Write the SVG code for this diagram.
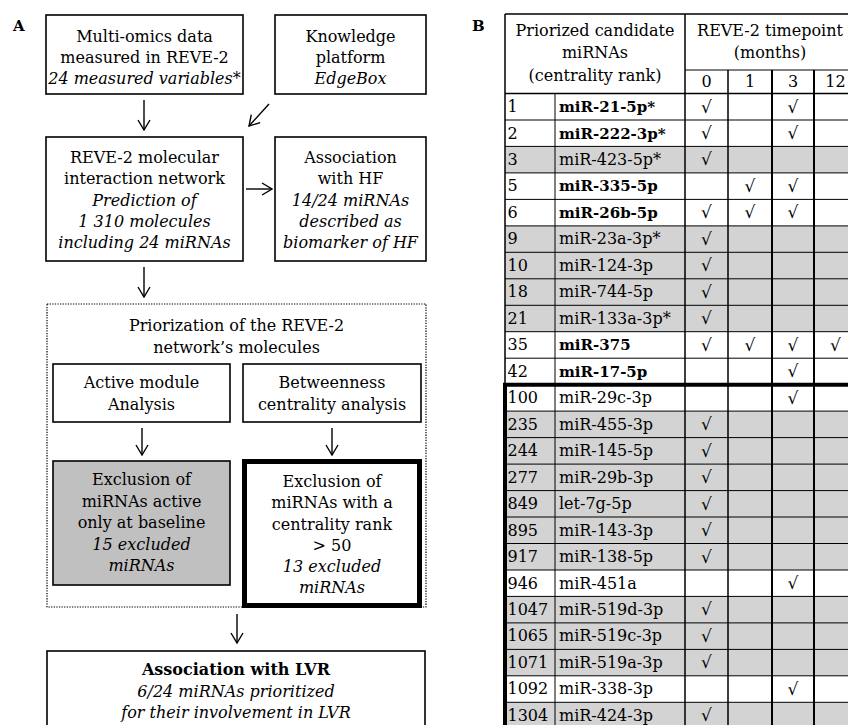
<svg xmlns="http://www.w3.org/2000/svg" width="848" height="725" viewBox="0 0 848 725">
<style>
.t{font-family:"DejaVu Serif","Liberation Serif",serif;font-size:16px;fill:#000}
.c{text-anchor:middle}
.i{font-style:italic}
.b{font-weight:bold}
.tb{font-weight:bold;font-size:15px}
.lbl{font-family:"DejaVu Serif","Liberation Serif",serif;font-size:15px;font-weight:bold}
.box{fill:#fff;stroke:#000;stroke-width:1.6}
.conn{fill:none;stroke:#000;stroke-width:1.4;marker-end:url(#ah)}
.ck{font-family:"DejaVu Serif","Liberation Serif",serif;font-size:17px;text-anchor:middle}
.gr{fill:#d3d3d3}
.hl{stroke:#000;stroke-width:1}
</style>
<defs>
<marker id="ah" markerUnits="userSpaceOnUse" markerWidth="14" markerHeight="14" viewBox="0 0 14 14" refX="13" refY="7" orient="auto">
<path d="M3,1 L13,7 L3,13" fill="none" stroke="#000" stroke-width="1.4"/>
</marker>
</defs>
<rect width="848" height="725" fill="#fff"/>
<text class="lbl" x="13" y="31">A</text>
<text class="lbl" x="472" y="31">B</text>

<g id="node-multiomics">
<rect class="box" x="46" y="15" width="197" height="79"/>
<text class="t c" x="144.5" y="42">Multi-omics data</text>
<text class="t c" x="144.5" y="63">measured in REVE-2</text>
<text class="t c i" x="144.5" y="84">24 measured variables*</text>
</g>
<g id="node-knowledge">
<rect class="box" x="275" y="15" width="151" height="79"/>
<text class="t c" x="350.5" y="42">Knowledge</text>
<text class="t c" x="350.5" y="63">platform</text>
<text class="t c i" x="350.5" y="84">EdgeBox</text>
</g>
<g id="node-network">
<rect class="box" x="46" y="137" width="197" height="124"/>
<text class="t c" x="144.5" y="163">REVE-2 molecular</text>
<text class="t c" x="144.5" y="184">interaction network</text>
<text class="t c i" x="144.5" y="206">Prediction of</text>
<text class="t c i" x="144.5" y="227">1 310 molecules</text>
<text class="t c i" x="144.5" y="248">including 24 miRNAs</text>
</g>
<g id="node-hf">
<rect class="box" x="275" y="137" width="151" height="124"/>
<text class="t c" x="350.5" y="163">Association</text>
<text class="t c" x="350.5" y="184">with HF</text>
<text class="t c i" x="350.5" y="206">14/24 miRNAs</text>
<text class="t c i" x="350.5" y="227">described as</text>
<text class="t c i" x="350.5" y="248">biomarker of HF</text>
</g>
<g id="node-priorization">
<rect x="47" y="304" width="379" height="303" fill="none" stroke="#000" stroke-width="1.2" stroke-dasharray="1.3,1.3"/>
<text class="t c" x="236.5" y="331">Priorization of the REVE-2</text>
<text class="t c" x="236.5" y="353">network’s molecules</text>
</g>
<g id="node-active">
<rect class="box" x="53" y="364" width="177" height="58"/>
<text class="t c" x="141.5" y="388">Active module</text>
<text class="t c" x="141.5" y="410">Analysis</text>
</g>
<g id="node-betweenness">
<rect class="box" x="243" y="364" width="178" height="58"/>
<text class="t c" x="332" y="388">Betweenness</text>
<text class="t c" x="332" y="410">centrality analysis</text>
</g>
<g id="node-excl-baseline">
<rect x="53" y="461" width="177" height="124" fill="#c0c0c0" stroke="#000" stroke-width="1.6"/>
<text class="t c" x="141.5" y="485">Exclusion of</text>
<text class="t c" x="141.5" y="507">miRNAs active</text>
<text class="t c" x="141.5" y="528">only at baseline</text>
<text class="t c i" x="141.5" y="550">15 excluded</text>
<text class="t c i" x="141.5" y="571">miRNAs</text>
</g>
<g id="node-excl-centrality">
<rect x="244.5" y="461.5" width="175" height="144" fill="#fff" stroke="#000" stroke-width="5"/>
<text class="t c" x="332" y="487">Exclusion of</text>
<text class="t c" x="332" y="508">miRNAs with a</text>
<text class="t c" x="332" y="530">centrality rank</text>
<text class="t c" x="332" y="551">&gt; 50</text>
<text class="t c i" x="332" y="572">13 excluded</text>
<text class="t c i" x="332" y="593">miRNAs</text>
</g>
<g id="node-lvr">
<rect class="box" x="47" y="651" width="378" height="100"/>
<text class="t c b" x="236" y="675">Association with LVR</text>
<text class="t c i" x="236" y="696.5">6/24 miRNAs prioritized</text>
<text class="t c i" x="236" y="718">for their involvement in LVR</text>
</g>
<g id="connectors">
<path class="conn" d="M144,100 L144,130"/>
<path class="conn" d="M269,104 L249,126"/>
<path class="conn" d="M246,189 L272,189"/>
<path class="conn" d="M144,267 L144,297"/>
<path class="conn" d="M142,428 L142,455"/>
<path class="conn" d="M332,428 L332,455"/>
<path class="conn" d="M237,614 L237,643"/>
</g>

<g id="table">
<g id="row-fills">
<rect class="gr" x="505" y="146.4" width="352" height="26.5"/>
<rect class="gr" x="505" y="225.9" width="352" height="105.8"/>
<rect class="gr" x="505" y="411.1" width="352" height="158.9"/>
<rect class="gr" x="505" y="596.4" width="352" height="79.4"/>
<rect class="gr" x="505" y="702.3" width="352" height="26.5"/>
</g>
<g id="grid">
<path class="hl" d="M505,120H857M505,146.4H857M505,172.9H857M505,199.4H857M505,225.9H857M505,252.3H857M505,278.8H857M505,305.3H857M505,331.7H857M505,358.2H857M505,411.1H857M505,437.6H857M505,464.1H857M505,490.6H857M505,517H857M505,543.5H857M505,570H857M505,596.4H857M505,622.9H857M505,649.4H857M505,675.8H857M505,702.3H857"/>
<path d="M685,70H857" stroke="#000" stroke-width="1"/>
<path d="M505,14H857M505,93.5H857" stroke="#000" stroke-width="1.5"/>
<path d="M555,93.5V725" stroke="#000" stroke-width="1"/>
<path d="M505,14V384.7M685,14V725M728,70V725" stroke="#000" stroke-width="1.5"/>
<path d="M772,70V725M814,70V725" stroke="#000" stroke-width="2"/>
<path d="M505,384.7V725M503,384.7H857" stroke="#000" stroke-width="4"/>
</g>
<g id="header">
<text class="t c" x="595" y="36">Priorized candidate</text>
<text class="t c" x="595" y="58">miRNAs</text>
<text class="t c" x="595" y="81">(centrality rank)</text>
<text class="t c" x="770" y="36">REVE-2 timepoint</text>
<text class="t c" x="770" y="58">(months)</text>
<text class="t c" x="706.5" y="87">0</text>
<text class="t c" x="750" y="87">1</text>
<text class="t c" x="793" y="87">3</text>
<text class="t c" x="835.5" y="87">12</text>
</g>
<g id="rows">
<text class="t" x="507.5" y="112">1</text><text class="t tb" x="559" y="112">miR-21-5p*</text>
<text class="t" x="507.5" y="138.5">2</text><text class="t tb" x="559" y="138.5">miR-222-3p*</text>
<text class="t" x="507.5" y="164.9">3</text><text class="t" x="559" y="164.9">miR-423-5p*</text>
<text class="t" x="507.5" y="191.4">5</text><text class="t tb" x="559" y="191.4">miR-335-5p</text>
<text class="t" x="507.5" y="217.9">6</text><text class="t tb" x="559" y="217.9">miR-26b-5p</text>
<text class="t" x="507.5" y="244.4">9</text><text class="t" x="559" y="244.4">miR-23a-3p*</text>
<text class="t" x="507.5" y="270.8">10</text><text class="t" x="559" y="270.8">miR-124-3p</text>
<text class="t" x="507.5" y="297.3">18</text><text class="t" x="559" y="297.3">miR-744-5p</text>
<text class="t" x="507.5" y="323.8">21</text><text class="t" x="559" y="323.8">miR-133a-3p*</text>
<text class="t" x="507.5" y="350.2">35</text><text class="t tb" x="559" y="350.2">miR-375</text>
<text class="t" x="507.5" y="376.7">42</text><text class="t tb" x="559" y="376.7">miR-17-5p</text>
<text class="t" x="507.5" y="403.2">100</text><text class="t" x="559" y="403.2">miR-29c-3p</text>
<text class="t" x="507.5" y="429.6">235</text><text class="t" x="559" y="429.6">miR-455-3p</text>
<text class="t" x="507.5" y="456.1">244</text><text class="t" x="559" y="456.1">miR-145-5p</text>
<text class="t" x="507.5" y="482.6">277</text><text class="t" x="559" y="482.6">miR-29b-3p</text>
<text class="t" x="507.5" y="509.1">849</text><text class="t" x="559" y="509.1">let-7g-5p</text>
<text class="t" x="507.5" y="535.5">895</text><text class="t" x="559" y="535.5">miR-143-3p</text>
<text class="t" x="507.5" y="562">917</text><text class="t" x="559" y="562">miR-138-5p</text>
<text class="t" x="507.5" y="588.5">946</text><text class="t" x="559" y="588.5">miR-451a</text>
<text class="t" x="507.5" y="614.9">1047</text><text class="t" x="559" y="614.9">miR-519d-3p</text>
<text class="t" x="507.5" y="641.4">1065</text><text class="t" x="559" y="641.4">miR-519c-3p</text>
<text class="t" x="507.5" y="667.9">1071</text><text class="t" x="559" y="667.9">miR-519a-3p</text>
<text class="t" x="507.5" y="694.3">1092</text><text class="t" x="559" y="694.3">miR-338-3p</text>
<text class="t" x="507.5" y="720.8">1304</text><text class="t" x="559" y="720.8">miR-424-3p</text>
</g>
<g id="checks">
<text class="ck" x="706.5" y="112.5">√</text><text class="ck" x="793" y="112.5">√</text>
<text class="ck" x="706.5" y="139">√</text><text class="ck" x="793" y="139">√</text>
<text class="ck" x="706.5" y="165.4">√</text>
<text class="ck" x="750" y="191.9">√</text><text class="ck" x="793" y="191.9">√</text>
<text class="ck" x="706.5" y="218.4">√</text><text class="ck" x="750" y="218.4">√</text><text class="ck" x="793" y="218.4">√</text>
<text class="ck" x="706.5" y="244.9">√</text>
<text class="ck" x="706.5" y="271.3">√</text>
<text class="ck" x="706.5" y="297.8">√</text>
<text class="ck" x="706.5" y="324.3">√</text>
<text class="ck" x="706.5" y="350.7">√</text><text class="ck" x="750" y="350.7">√</text><text class="ck" x="793" y="350.7">√</text><text class="ck" x="835.5" y="350.7">√</text>
<text class="ck" x="793" y="377.2">√</text>
<text class="ck" x="793" y="403.7">√</text>
<text class="ck" x="706.5" y="430.1">√</text>
<text class="ck" x="706.5" y="456.6">√</text>
<text class="ck" x="706.5" y="483.1">√</text>
<text class="ck" x="706.5" y="509.6">√</text>
<text class="ck" x="706.5" y="536">√</text>
<text class="ck" x="706.5" y="562.5">√</text>
<text class="ck" x="793" y="589">√</text>
<text class="ck" x="706.5" y="615.4">√</text>
<text class="ck" x="706.5" y="641.9">√</text>
<text class="ck" x="706.5" y="668.4">√</text>
<text class="ck" x="793" y="694.8">√</text>
<text class="ck" x="706.5" y="721.3">√</text>
</g>
</g>
</svg>
